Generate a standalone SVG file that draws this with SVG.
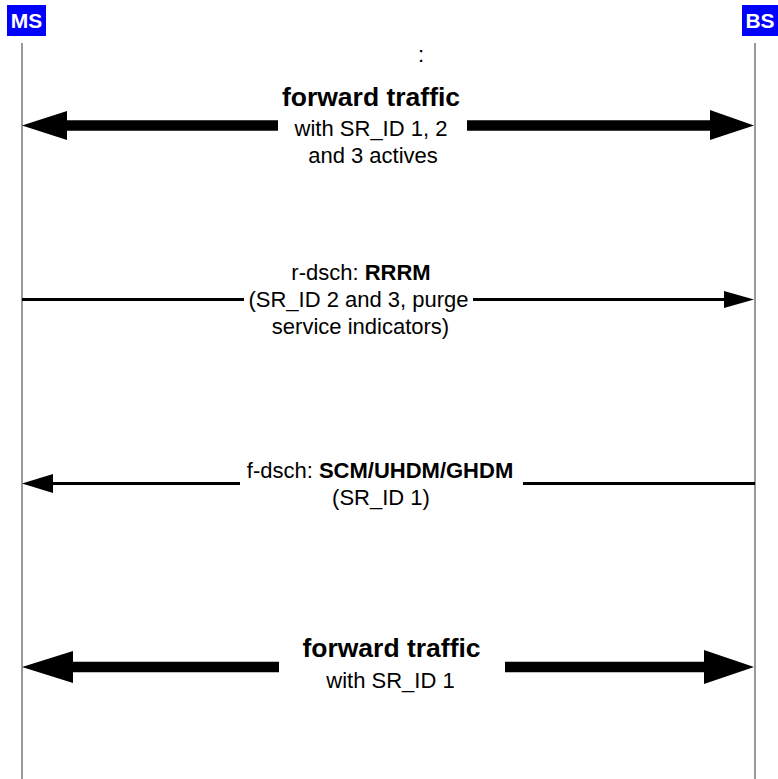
<svg xmlns="http://www.w3.org/2000/svg" width="778" height="779" viewBox="0 0 778 779">
<style>
.t{font-family:"Liberation Sans",Arial,sans-serif;font-size:22px;fill:#000;text-anchor:middle}
.b{font-weight:bold}
.big{font-family:"Liberation Sans",Arial,sans-serif;font-size:26.5px;font-weight:bold;fill:#000;text-anchor:middle}
.hdr{font-family:"Liberation Sans",Arial,sans-serif;font-size:21px;font-weight:bold;fill:#fff;text-anchor:middle}
.life{stroke:#6e6e6e;stroke-width:1.4;fill:none}
.thick{stroke:#000;stroke-width:10.5;fill:none}
.thin{stroke:#000;stroke-width:3;fill:none}
.head{fill:#000}
</style>
<rect width="778" height="779" fill="#fff"/>
<g id="MS">
<rect x="7" y="5" width="39" height="31" fill="#0000ff"/>
<text class="hdr" x="26.5" y="28">MS</text>
<line class="life" x1="22" y1="43" x2="22" y2="779"/>
</g>
<g id="BS">
<rect x="742" y="5" width="36" height="31" fill="#0000ff"/>
<text class="hdr" x="760" y="28">BS</text>
<line class="life" x1="755" y1="43" x2="755" y2="779"/>
</g>
<g id="ellipsis">
<text class="t" x="421" y="62">:</text>
</g>
<g id="connectors">
<g id="fwd1">
<line class="thick" x1="66" y1="125.5" x2="278" y2="125.5"/>
<polygon class="head" points="22,125.5 67,111 67,140"/>
<line class="thick" x1="467" y1="125.5" x2="711" y2="125.5"/>
<polygon class="head" points="754,125.5 710,110 710,140"/>
</g>
<g id="rdsch">
<line class="thin" x1="22" y1="299.5" x2="244" y2="299.5"/>
<line class="thin" x1="473" y1="299.5" x2="726" y2="299.5"/>
<polygon class="head" points="754,299.5 724,291 724,308"/>
</g>
<g id="fdsch">
<line class="thin" x1="50" y1="483.5" x2="240" y2="483.5"/>
<polygon class="head" points="22,483.5 53,474 53,493"/>
<line class="thin" x1="523" y1="483.5" x2="755" y2="483.5"/>
</g>
<g id="fwd2">
<line class="thick" x1="72" y1="667" x2="279" y2="667"/>
<polygon class="head" points="22,667 73,651 73,683"/>
<line class="thick" x1="505" y1="667" x2="705" y2="667"/>
<polygon class="head" points="754,667 704,650 704,684"/>
</g>
</g>
<g id="label-fwd1">
<text class="big" x="371" y="106">forward traffic</text>
<text class="t" x="371" y="136">with SR_ID 1, 2</text>
<text class="t" x="373" y="163">and 3 actives</text>
</g>
<g id="label-rdsch">
<text class="t" x="361" y="280">r-dsch: <tspan class="b">RRRM</tspan></text>
<text class="t" x="358.5" y="307">(SR_ID 2 and 3, purge</text>
<text class="t" x="360.5" y="334">service indicators)</text>
</g>
<g id="label-fdsch">
<text class="t" x="380" y="478">f-dsch: <tspan class="b">SCM/UHDM/GHDM</tspan></text>
<text class="t" x="381" y="505">(SR_ID 1)</text>
</g>
<g id="label-fwd2">
<text class="big" x="391.5" y="657">forward traffic</text>
<text class="t" x="390.5" y="688">with SR_ID 1</text>
</g>
</svg>
